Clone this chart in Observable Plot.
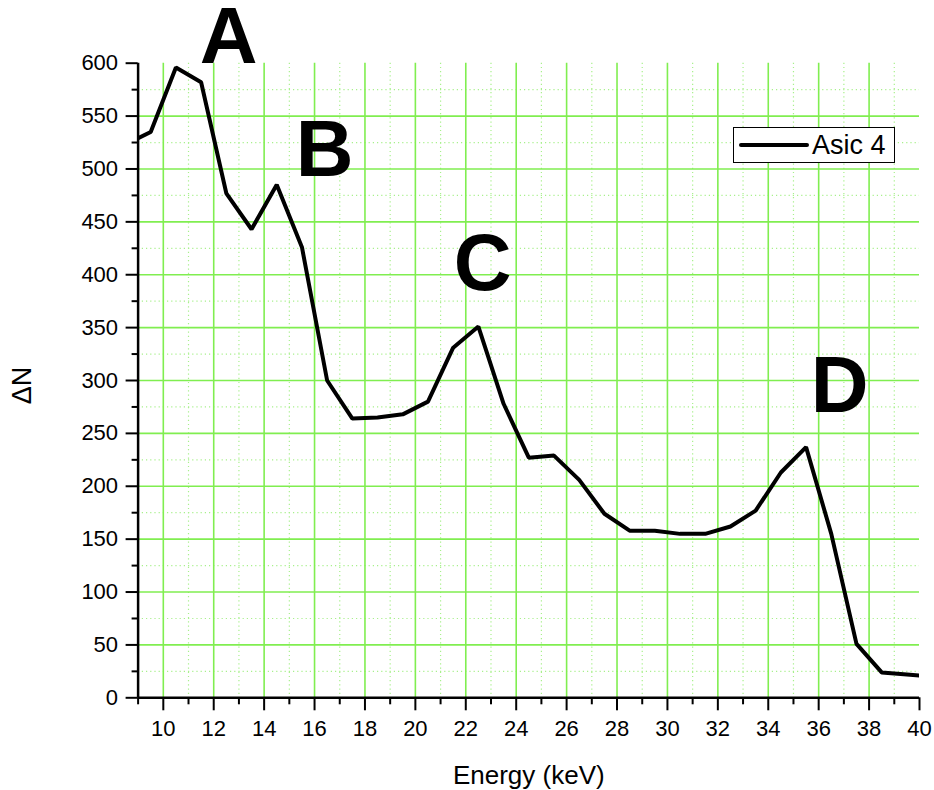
<!DOCTYPE html>
<html>
<head>
<meta charset="utf-8">
<script src="https://cdn.jsdelivr.net/npm/d3@7"></script>
<script src="https://cdn.jsdelivr.net/npm/@observablehq/plot@0.6"></script>
<style>
  html, body { margin: 0; padding: 0; background: #fff; }
  #wrap { position: relative; width: 934px; height: 790px; font-family: "Liberation Sans", Arial, sans-serif; }
  #chart svg { overflow: visible; }
  #legend { position: absolute; left: 733px; top: 127px; width: 160px; height: 34px; border: 1px solid #000; background: #fff; }
  #legend svg { position: absolute; left: 0; top: 0; }
  #legend span { position: absolute; left: 78px; top: 1px; font-size: 27px; line-height: 32px; color: #000; }
</style>
</head>
<body>
<div id="wrap">
  <div id="chart"></div>
  <div id="legend"><svg width="80" height="34"><line x1="7" y1="17" x2="73" y2="17" stroke="#000" stroke-width="4" stroke-linecap="round"/></svg><span id="legendText"></span></div>
</div>
<script>
// ---- data ----
const energy = [8.5, 9.5, 10.5, 11.5, 12.5, 13.5, 14.5, 15.5, 16.5, 17.5, 18.5, 19.5, 20.5, 21.5, 22.5, 23.5, 24.5, 25.5, 26.5, 27.5, 28.5, 29.5, 30.5, 31.5, 32.5, 33.5, 34.5, 35.5, 36.5, 37.5, 38.5, 39.5, 40.5];
const deltaN = [523, 535, 596, 582, 477, 443, 485, 426, 300, 264, 265, 268, 280, 331, 351, 278, 227, 229, 206, 174, 158, 158, 155, 155, 162, 177, 213, 237, 155, 51, 24, 22, 20];
const seriesName = "Asic 4";

const xMajorTicks = [10, 12, 14, 16, 18, 20, 22, 24, 26, 28, 30, 32, 34, 36, 38, 40];
const xMinorTicks = [9, 11, 13, 15, 17, 19, 21, 23, 25, 27, 29, 31, 33, 35, 37, 39];
const yMajorTicks = [0, 50, 100, 150, 200, 250, 300, 350, 400, 450, 500, 550, 600];
const yMinorTicks = [25, 75, 125, 175, 225, 275, 325, 375, 425, 475, 525, 575];

const xGridMajor = [10, 12, 14, 16, 18, 20, 22, 24, 26, 28, 30, 32, 34, 36, 38];
const xGridMinor = [11, 13, 15, 17, 19, 21, 23, 25, 27, 29, 31, 33, 35, 37, 39];
const yGridMajor = [50, 100, 150, 200, 250, 300, 350, 400, 450, 500, 550];
const yGridMinor = [25, 75, 125, 175, 225, 275, 325, 375, 425, 475, 525, 575];

const peakLabels = ["A", "B", "C", "D"];
const peakX = [12.59, 16.4, 22.67, 36.83];
const peakY = [600, 493, 386, 270];

const xLabel = "Energy (keV)";
const yLabel = "ΔN";

const data = energy.map((e, i) => ({energy: e, dn: deltaN[i]}));
const peaks = peakLabels.map((t, i) => ({t, x: peakX[i], y: peakY[i]}));

const majorGreen = "#80ee50";
const minorGreen = "#a8f08c";

const chart = Plot.plot({
  width: 934,
  height: 790,
  marginLeft: 137.6,
  marginRight: 15,
  marginTop: 62.7,
  marginBottom: 92.7,
  style: {fontFamily: "'Liberation Sans', Arial, sans-serif", background: "#fff", color: "#000", overflow: "visible"},
  x: {domain: [9, 40]},
  y: {domain: [0, 600]},
  marks: [
    Plot.ruleX(xGridMinor, {stroke: minorGreen, strokeWidth: 1.2, strokeDasharray: "1.2,3"}),
    Plot.ruleY(yGridMinor, {stroke: minorGreen, strokeWidth: 1.2, strokeDasharray: "1.2,3"}),
    Plot.ruleX(xGridMajor, {stroke: majorGreen, strokeWidth: 1.6}),
    Plot.ruleY(yGridMajor, {stroke: majorGreen, strokeWidth: 1.6}),
    Plot.line(data, {x: "energy", y: "dn", stroke: "#000", strokeWidth: 4, strokeLinejoin: "miter", clip: true}),
    Plot.axisX(xMinorTicks, {tickSize: 7, strokeWidth: 2, text: null, label: null}),
    Plot.axisX(xMajorTicks, {tickSize: 13, tickPadding: 10, strokeWidth: 2, fontSize: 22, label: null}),
    Plot.axisY(yMinorTicks, {tickSize: 6, strokeWidth: 2, text: null, label: null}),
    Plot.axisY(yMajorTicks, {tickSize: 12, tickPadding: 8, strokeWidth: 2, fontSize: 22, label: null}),
    Plot.ruleY([0], {stroke: "#000", strokeWidth: 2.5}),
    Plot.ruleX([9], {stroke: "#000", strokeWidth: 2.5}),
    Plot.text(peaks, {x: "x", y: "y", text: "t", fontSize: 80, fontWeight: "bold", textAnchor: "middle", lineAnchor: "bottom", fill: "#000"}),
    Plot.text([xLabel], {frameAnchor: "bottom", dy: 86, textAnchor: "middle", lineAnchor: "bottom", fontSize: 26, fill: "#000"}),
    Plot.text([yLabel], {frameAnchor: "left", dx: -115.6, dy: 5, textAnchor: "middle", lineAnchor: "middle", rotate: -90, fontSize: 27, fill: "#000"})
  ]
});
document.getElementById("chart").appendChild(chart);
document.getElementById("legendText").textContent = seriesName;
</script>
</body>
</html>
